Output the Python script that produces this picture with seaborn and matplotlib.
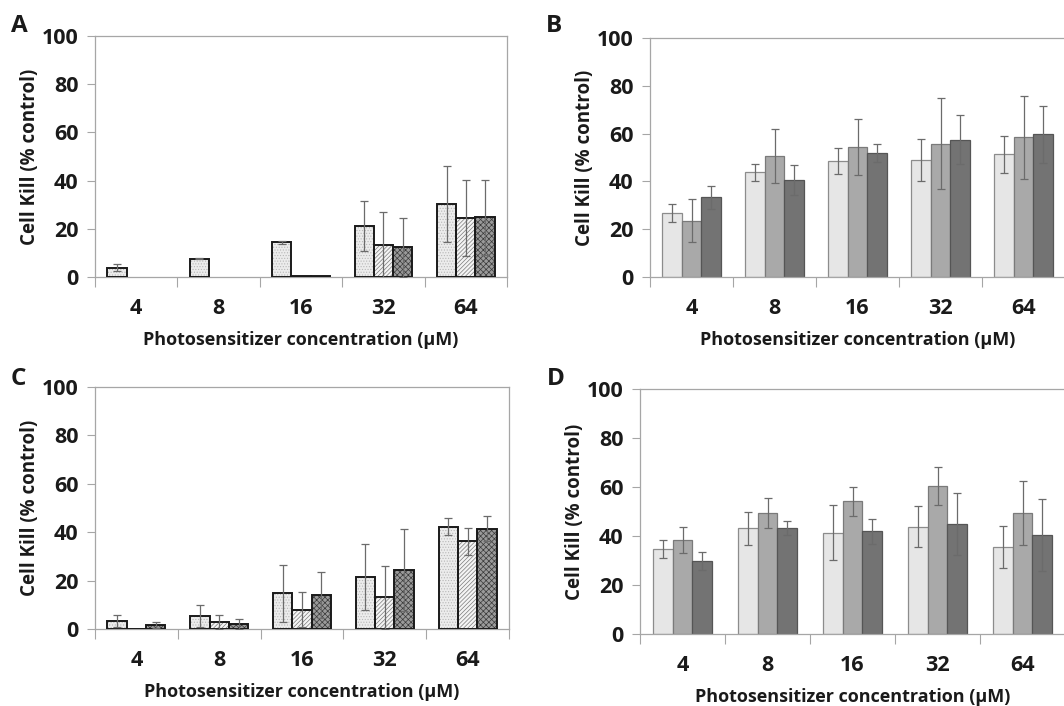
import numpy as np
import pandas as pd
import matplotlib
matplotlib.use("Agg")
import matplotlib.pyplot as plt
from matplotlib.container import BarContainer
import seaborn as sns

# ---------------- data ----------------
concentrations = ["4", "8", "16", "32", "64"]
series = ["S1", "S2", "S3"]

A_vals = [[3.9, 7.6, 14.5, 21.0, 30.3],
          [0.0, 0.0, 0.5, 13.1, 24.5],
          [0.0, 0.0, 0.4, 12.3, 24.8]]
A_errs = [[1.5, 0.3, 0.6, 10.4, 15.6],
          [0.0, 0.0, 0.0, 13.7, 15.9],
          [0.0, 0.0, 0.0, 12.2, 15.6]]

B_vals = [[26.8, 43.8, 48.5, 49.0, 51.3],
          [23.6, 50.6, 54.5, 55.8, 58.4],
          [33.3, 40.6, 51.9, 57.5, 59.7]]
B_errs = [[3.6, 3.5, 5.5, 8.9, 7.8],
          [8.9, 11.3, 11.7, 19.0, 17.5],
          [4.7, 6.3, 3.6, 10.3, 12.0]]

C_vals = [[3.2, 5.4, 14.7, 21.6, 42.2],
          [0.2, 2.8, 8.0, 13.1, 36.2],
          [1.7, 2.1, 14.2, 24.3, 41.5]]
C_errs = [[2.4, 4.4, 11.8, 13.6, 3.5],
          [0.0, 3.0, 7.3, 12.9, 5.6],
          [1.2, 2.2, 9.5, 17.0, 5.3]]

D_vals = [[34.8, 43.1, 41.4, 43.8, 35.5],
          [38.4, 49.4, 54.1, 60.4, 49.4],
          [29.8, 43.3, 41.9, 45.0, 40.4]]
D_errs = [[3.7, 6.8, 11.1, 8.4, 8.4],
          [5.4, 6.1, 6.0, 7.9, 13.0],
          [3.5, 2.7, 5.0, 12.6, 14.6]]

yticks = [0, 20, 40, 60, 80, 100]
ylabel = "Cell Kill (% control)"
xlabel = "Photosensitizer concentration (µM)"
panel_letters = ["A", "B", "C", "D"]

# ---------------- style ----------------
sns.set_theme(style="white")
plt.rcParams["font.family"] = ["Open Sans", "DejaVu Sans"]
plt.rcParams["hatch.linewidth"] = 0.5

W, H = 1064, 706
fig = plt.figure(figsize=(W / 100, H / 100), dpi=100)

def rect(l, r, t, b):
    return [l / W, 1 - b / H, (r - l) / W, (b - t) / H]

boxes = [rect(95, 507, 36, 277), rect(650, 1065, 38, 277),
         rect(95, 509, 387, 629), rect(640, 1065, 389, 634)]
letter_pos = [(11, 14), (546, 14), (11, 367), (547, 367)]

solid_colors = ["#e6e6e6", "#a9a9a9", "#737373"]
solid_edges = ["#8c8c8c", "#7a7a7a", "#555555"]
hatch_faces = ["#ececec", "#f4f4f4", "#9a9a9a"]
hatch_colors = ["#b8b8b8", "#7a7a7a", "#3a3a3a"]
hatches = ["......", "////////", "xxxxxx"]

panels = [(A_vals, A_errs, True), (B_vals, B_errs, False),
          (C_vals, C_errs, True), (D_vals, D_errs, False)]

axis_gray = "#a6a6a6"
txt = "#1a1a1a"

for i, ((vals, errs, hatched), box) in enumerate(zip(panels, boxes)):
    ax = fig.add_axes(box)
    rows = []
    for s, sv in zip(series, vals):
        for c, v in zip(concentrations, sv):
            rows.append({"conc": c, "series": s, "value": v})
    df = pd.DataFrame(rows)
    pal = hatch_faces if hatched else solid_colors
    sns.barplot(data=df, x="conc", y="value", hue="series", order=concentrations,
                hue_order=series, palette=pal, width=0.7, errorbar=None,
                legend=False, ax=ax, saturation=1)
    bar_conts = [c for c in ax.containers if isinstance(c, BarContainer)]
    if hatched:
        # black outlines drawn on top of the hatched fills
        sns.barplot(data=df, x="conc", y="value", hue="series", order=concentrations,
                    hue_order=series, palette=["#1a1a1a"] * 3, width=0.7,
                    errorbar=None, legend=False, ax=ax, saturation=1, fill=False)
        out_conts = [c for c in ax.containers if isinstance(c, BarContainer)][3:]
        for si, cont in enumerate(out_conts):
            for ci, bar in enumerate(cont.patches):
                bar.set_edgecolor("#1a1a1a")
                bar.set_linewidth(1.4 if vals[si][ci] > 0 else 0)
                bar.set_zorder(3)
    for si, cont in enumerate(bar_conts):
        for ci, bar in enumerate(cont.patches):
            v = vals[si][ci]
            e = errs[si][ci]
            if hatched:
                bar.set_hatch(hatches[si])
                bar.set_edgecolor(hatch_colors[si])
                bar.set_linewidth(0)
            else:
                bar.set_edgecolor(solid_edges[si])
                bar.set_linewidth(0.9)
            if v <= 0:
                bar.set_linewidth(0)
                bar.set_hatch(None)
            if e > 0:
                xc = bar.get_x() + bar.get_width() / 2
                ax.errorbar(xc, v, yerr=e, fmt="none", ecolor="#6b6b6b",
                            elinewidth=0.9, capsize=3.2, capthick=0.9, zorder=5)
    ax.set_ylim(0, 100)
    ax.set_xlim(-0.5, 4.5)
    ax.set_yticks(yticks)
    ax.set_yticklabels([str(t) for t in yticks], fontsize=15.5, fontweight="bold",
                       color=txt)
    ax.set_xticks(range(len(concentrations)))
    ax.set_xticklabels(concentrations, fontsize=15.5, fontweight="bold", color=txt)
    ax.set_xticks(np.arange(-0.5, 5.0, 1.0), minor=True)
    ax.tick_params(axis="x", which="major", length=0, pad=15)
    ax.tick_params(axis="x", which="minor", length=7, width=0.8, color=axis_gray,
                   direction="out", bottom=True)
    ax.tick_params(axis="y", which="major", length=6, width=0.8, color=axis_gray,
                   direction="out", left=True, pad=6)
    ax.set_xlabel(xlabel, fontsize=13, fontweight="bold", color=txt, labelpad=9)
    ax.set_ylabel(ylabel, fontsize=13.5, fontweight="bold", color=txt, labelpad=1)
    for side in ["left", "top", "bottom", "right"]:
        ax.spines[side].set_color(axis_gray)
        ax.spines[side].set_linewidth(0.9)
        ax.spines[side].set_visible(True)
    if not hatched:
        ax.spines["right"].set_visible(False)
    ax.grid(False)
    lx, ly = letter_pos[i]
    fig.text(lx / W, 1 - ly / H, panel_letters[i], fontsize=17.5, fontweight="bold",
             va="top", ha="left", color=txt)

fig.savefig("out.png", dpi=100)
